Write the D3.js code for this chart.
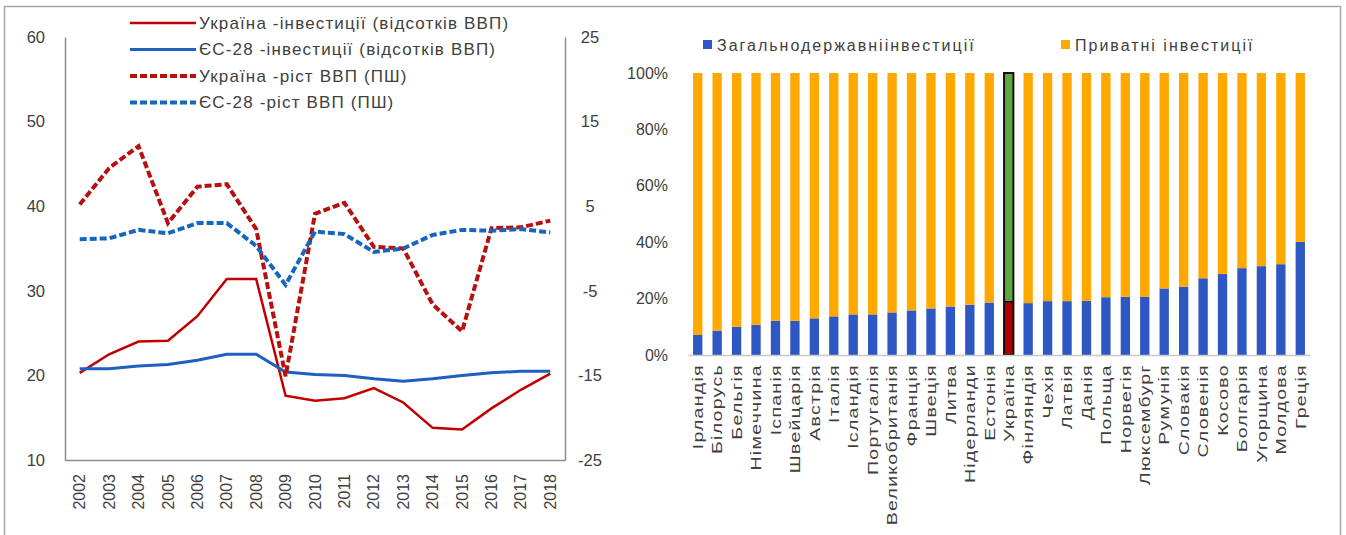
<!DOCTYPE html>
<html>
<head>
<meta charset="utf-8">
<script src="https://cdn.jsdelivr.net/npm/d3@7"></script>
<style>
  body { margin: 0; background: #fff; }
  svg text { font-family: "Liberation Sans", Arial, sans-serif; fill: #404040; }
</style>
</head>
<body>
<svg id="chart" width="1346" height="535"></svg>
<script>
// left chart data
const years = ["2002","2003","2004","2005","2006","2007","2008","2009","2010","2011","2012","2013","2014","2015","2016","2017","2018"];
const uaInvest = [20.3, 22.5, 24.0, 24.1, 27.0, 31.4, 31.4, 17.6, 17.0, 17.3, 18.5, 16.8, 13.8, 13.6, 16.1, 18.3, 20.2];
const euInvest = [20.8, 20.8, 21.1, 21.3, 21.8, 22.5, 22.5, 20.4, 20.1, 20.0, 19.6, 19.3, 19.6, 20.0, 20.3, 20.5, 20.5];
const uaGdp = [5.2, 9.5, 12.1, 3.0, 7.3, 7.6, 2.3, -15.1, 4.1, 5.4, 0.2, 0.0, -6.6, -9.8, 2.4, 2.5, 3.3];
const euGdp = [1.1, 1.2, 2.2, 1.8, 3.0, 3.0, 0.3, -4.3, 2.0, 1.7, -0.4, 0.0, 1.6, 2.2, 2.1, 2.3, 1.9];
const leftTicks = [10, 20, 30, 40, 50, 60];
const rightTicks = [-25, -15, -5, 5, 15, 25];
const lineNames = [
  "Україна -інвестиції (відсотків ВВП)",
  "ЄС-28 -інвестиції (відсотків ВВП)",
  "Україна -ріст ВВП (ПШ)",
  "ЄС-28 -ріст ВВП (ПШ)"
];

// right chart data
const countries = ["Ірландія","Білорусь","Бельгія","Німеччина","Іспанія","Швейцарія","Австрія","Італія","Ісландія","Португалія","Великобританія","Франція","Швеція","Литва","Нідерланди","Естонія","Україна","Фінляндія","Чехія","Латвія","Данія","Польща","Норвегія","Люксембург","Румунія","Словакія","Словенія","Косово","Болгарія","Угорщина","Молдова","Греція"];
const publicShare = [7.1, 8.6, 10.0, 10.7, 12.1, 12.1, 13.0, 13.7, 14.4, 14.4, 15.1, 15.8, 16.5, 17.2, 17.8, 18.6, 18.9, 18.4, 19.1, 19.1, 19.2, 20.5, 20.6, 20.6, 23.6, 24.2, 27.2, 28.7, 30.8, 31.5, 32.2, 40.1];
const pctTicks = [0, 0.2, 0.4, 0.6, 0.8, 1];
const barNames = ["Загальнодержавніінвестиції", "Приватні інвестиції"];

const red = "#c00000", blue = "#1f5fc0";
const barBlue = "#2e57c4", barOrange = "#ffa800";

const svg = d3.select("#chart");

// frame
svg.append("rect")
  .attr("x", 4.5).attr("y", 6.5).attr("width", 1336).attr("height", 540)
  .attr("fill", "none").attr("stroke", "#a6a6a6").attr("stroke-width", 1.5);

// ---------- left chart ----------
const x = d3.scaleBand().domain(years).range([65, 565]);
const yL = d3.scaleLinear().domain([10, 60]).range([460, 37]);
const yR = d3.scaleLinear().domain([-25, 25]).range([460, 37]);
const cx = d => x(d) + x.bandwidth() / 2;

const gLeft = svg.append("g");
gLeft.append("g")
  .attr("transform", "translate(65,0)")
  .call(d3.axisLeft(yL).tickValues(leftTicks).tickSize(0).tickPadding(20))
  .call(g => g.select(".domain").attr("stroke", "#8c8c8c").attr("stroke-width", 1.5))
  .call(g => g.selectAll("text").attr("font-size", 16.5).attr("fill", "#404040"));

gLeft.append("g")
  .attr("transform", "translate(565,0)")
  .call(d3.axisRight(yR).tickValues(rightTicks).tickFormat(d => String(d)).tickSize(0).tickPadding(25))
  .call(g => g.select(".domain").attr("stroke", "#8c8c8c").attr("stroke-width", 1.5))
  .call(g => g.selectAll("text").attr("font-size", 16.5).attr("fill", "#404040")
    .attr("text-anchor", "middle"));

gLeft.append("g")
  .attr("transform", "translate(0,460)")
  .call(d3.axisBottom(x).tickSize(0).tickSizeOuter(0))
  .call(g => g.select(".domain").attr("stroke", "#8c8c8c").attr("stroke-width", 1.5))
  .call(g => g.selectAll("text")
    .attr("font-size", 16).attr("fill", "#404040")
    .attr("text-anchor", "end")
    .attr("transform", "rotate(-90)")
    .attr("x", -14).attr("y", 0).attr("dy", "0.35em"));

const series = [
  { vals: uaInvest, y: yL, color: red, width: 2.5, dash: null },
  { vals: euInvest, y: yL, color: blue, width: 3, dash: null },
  { vals: uaGdp, y: yR, color: "#b80f0f", width: 4, dash: "7,3" },
  { vals: euGdp, y: yR, color: "#1666c0", width: 4, dash: "7,3" }
];

series.forEach(s => {
  const line = d3.line().x((d, i) => cx(years[i])).y(d => s.y(d));
  gLeft.append("path")
    .datum(s.vals)
    .attr("d", line)
    .attr("fill", "none")
    .attr("stroke", s.color)
    .attr("stroke-width", s.width)
    .attr("stroke-dasharray", s.dash);
});

// legend left
const legL = gLeft.append("g");
series.forEach((s, i) => {
  const yy = 23 + i * 26.5;
  legL.append("line")
    .attr("x1", 130).attr("x2", 196).attr("y1", yy).attr("y2", yy)
    .attr("stroke", s.color).attr("stroke-width", s.width)
    .attr("stroke-dasharray", s.dash);
  legL.append("text")
    .attr("x", 199).attr("y", yy).attr("dy", "0.35em")
    .attr("font-size", 17).attr("letter-spacing", 1.15)
    .text(lineNames[i]);
});

// ---------- right chart ----------
const xb = d3.scaleBand().domain(countries).range([688, 1310]).paddingInner(0.52).paddingOuter(0.26);
const yb = d3.scaleLinear().domain([0, 1]).range([355, 73]);

const gRight = svg.append("g");
gRight.append("g")
  .attr("transform", "translate(668,0)")
  .call(d3.axisLeft(yb).tickValues(pctTicks).tickFormat(d3.format(".0%")).tickSize(0).tickPadding(0))
  .call(g => g.select(".domain").remove())
  .call(g => g.selectAll("text").attr("font-size", 16).attr("fill", "#404040"));

const stackData = countries.map((c, i) => ({ country: c, pub: publicShare[i] / 100, priv: 1 - publicShare[i] / 100 }));

const bars = gRight.append("g").selectAll("g")
  .data(stackData).join("g");

bars.append("rect")
  .attr("x", d => xb(d.country))
  .attr("width", xb.bandwidth())
  .attr("y", d => yb(d.pub))
  .attr("height", d => yb(0) - yb(d.pub))
  .attr("fill", d => d.country === "Україна" ? "#b00000" : barBlue);

bars.append("rect")
  .attr("x", d => xb(d.country))
  .attr("width", xb.bandwidth())
  .attr("y", yb(1))
  .attr("height", d => yb(d.pub) - yb(1))
  .attr("fill", d => d.country === "Україна" ? "#5fa83f" : barOrange);

// outline for Ukraine bar
const ua = stackData.find(d => d.country === "Україна");
gRight.append("rect")
  .attr("x", xb(ua.country))
  .attr("width", xb.bandwidth())
  .attr("y", yb(1))
  .attr("height", yb(0) - yb(1))
  .attr("fill", "none")
  .attr("stroke", "#111").attr("stroke-width", 2);
gRight.append("line")
  .attr("x1", xb(ua.country)).attr("x2", xb(ua.country) + xb.bandwidth())
  .attr("y1", yb(ua.pub)).attr("y2", yb(ua.pub))
  .attr("stroke", "#111").attr("stroke-width", 1.5);

gRight.append("g")
  .attr("transform", "translate(0,355)")
  .call(d3.axisBottom(xb).tickSize(0).tickSizeOuter(0))
  .call(g => g.select(".domain").attr("stroke", "#c8c8c8").attr("stroke-width", 1.5))
  .call(g => g.selectAll("text")
    .attr("font-size", 15).attr("fill", "#404040")
    .attr("letter-spacing", 1)
    .attr("text-anchor", "end")
    .attr("transform", "rotate(-90) scale(1.3,1)")
    .attr("x", -7).attr("y", 0).attr("dy", "0.35em"));

// legend right
const legR = gRight.append("g");
[[703, barBlue, barNames[0]], [1061, barOrange, barNames[1]]].forEach(([lx, col, name]) => {
  legR.append("rect").attr("x", lx).attr("y", 40).attr("width", 9).attr("height", 9).attr("fill", col);
  legR.append("text").attr("x", lx + 14).attr("y", 45).attr("dy", "0.35em")
    .attr("font-size", 16).attr("letter-spacing", 2).text(name);
});
</script>
</body>
</html>
